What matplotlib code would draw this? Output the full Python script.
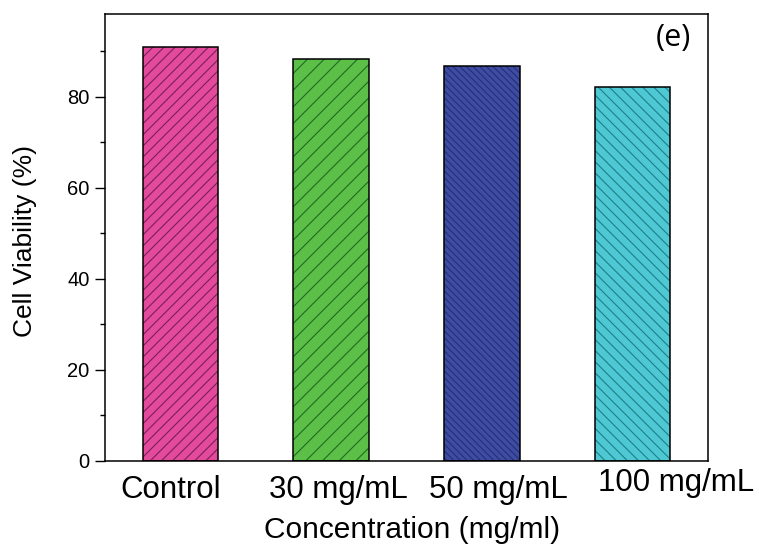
import matplotlib
matplotlib.use("Agg")
import matplotlib.pyplot as plt
import matplotlib.transforms as mtransforms

categories = ["Control", "30 mg/mL", "50 mg/mL", "100 mg/mL"]
viability = [90.9, 88.3, 86.7, 82.2]
fill_colors = ["#E34A9C", "#5CBF48", "#3E4CA6", "#4EC8D2"]
hatch_colors = ["#7A1F58", "#1F6B22", "#25306E", "#1D7F89"]
hatches = ["///", "//", "\\\\\\\\\\", "\\\\\\"]
yticks = [0, 20, 40, 60, 80]

plt.rcParams["font.family"] = ["Liberation Sans", "DejaVu Sans"]
plt.rcParams["hatch.linewidth"] = 0.8

fig = plt.figure(figsize=(7.59, 5.48), dpi=100)
ax = fig.add_axes([0.1383, 0.1588, 0.7945, 0.8157])

x = list(range(len(categories)))
for i in x:
    ax.bar(i, viability[i], width=0.5, color=fill_colors[i],
           edgecolor=hatch_colors[i], hatch=hatches[i], linewidth=0, zorder=2)
ax.bar(x, viability, width=0.5, fill=False, edgecolor="black",
       linewidth=1.1, zorder=3)

ax.set_xlim(-0.5, 3.5)
ax.set_ylim(0, 98.2)
ax.set_yticks(yticks)
ax.set_yticks([10, 30, 50, 70, 90], minor=True)
ax.tick_params(axis="y", which="major", direction="out", length=7, width=1.0,
               labelsize=14.5, pad=4)
ax.tick_params(axis="y", which="minor", direction="out", length=3.5, width=1.0)
ax.tick_params(axis="x", length=0, labelsize=22.5, pad=21)
for sp in ax.spines.values():
    sp.set_linewidth(1.1)

ax.set_xticks(x)
ax.set_xticklabels(categories)
offsets = [(-10, 0), (7, 0), (17, 0), (43, 7)]
for lab, (dx, dy) in zip(ax.get_xticklabels(), offsets):
    lab.set_va("center")
    lab.set_transform(lab.get_transform() + mtransforms.ScaledTranslation(
        dx / 100, dy / 100, fig.dpi_scale_trans))

ax.set_xlabel("Concentration (mg/ml)", fontsize=21.5)
ax.xaxis.label.set_va("center")
ax.xaxis.set_label_coords(0.509, -0.155)
ax.set_ylabel("Cell Viability (%)", fontsize=19)
ax.yaxis.label.set_va("center")
ax.yaxis.set_label_coords(-0.133, 0.492)

ax.text(0.942, 0.947, "(e)", transform=ax.transAxes, ha="center", va="center",
        fontsize=22, family=["Open Sans", "DejaVu Sans"])

fig.savefig("out.png", dpi=100)
